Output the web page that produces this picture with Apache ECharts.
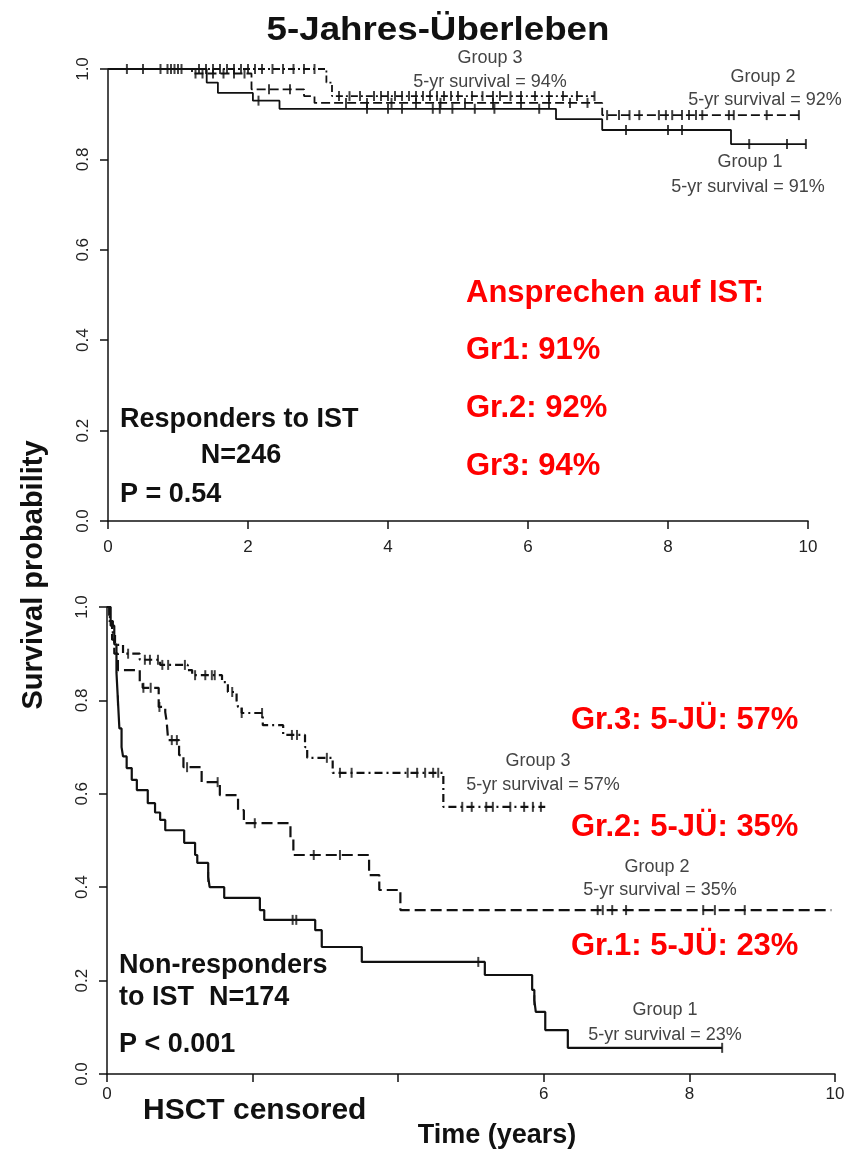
<!DOCTYPE html>
<html>
<head>
<meta charset="utf-8">
<script src="https://cdn.jsdelivr.net/npm/echarts@6/dist/echarts.min.js"></script>
<style>
  html, body { margin: 0; padding: 0; background: #fff; }
  #chart { width: 848px; height: 1151px; }
</style>
</head>
<body>
<div id="chart"></div>
<script>
// ---- data: [time in years, survival] at each step ----
var respG1 = [[0, 1], [1.41, 0.97], [1.57, 0.947], [2.07, 0.93], [2.45, 0.912], [6.4, 0.889], [7.06, 0.865], [8.9, 0.834], [9.97, 0.834]];
var respG2 = [[0, 1], [1.2, 0.99], [2.05, 0.955], [2.8, 0.94], [2.95, 0.925], [7.06, 0.898], [9.9, 0.898]];
var respG3 = [[0, 1], [3.12, 0.97], [3.2, 0.94], [6.95, 0.94]];

var respCens1 = [2.15, 3.7, 4.0, 4.2, 4.64, 4.74, 4.92, 5.24, 5.52, 6.16, 7.4, 8.0, 8.2, 9.16, 9.7, 9.97];
var respCens2 = [1.25, 1.35, 1.5, 1.65, 1.8, 1.95, 2.3, 2.6, 3.4, 3.7, 4.05, 4.4, 4.75, 5.1, 5.5, 5.9, 6.3, 6.6, 6.85,
  7.13, 7.3, 7.45, 7.59, 7.87, 7.97, 8.06, 8.2, 8.3, 8.4, 8.49, 8.87, 8.94, 9.41, 9.87];
var respCens3 = [0.27, 0.5, 0.75, 0.85, 0.9, 0.95, 1.0, 1.05, 1.3, 1.4, 1.5, 1.6, 1.7, 1.8, 1.9, 2.0, 2.1, 2.2, 2.35, 2.5, 2.65, 2.8, 2.95,
  3.3, 3.45, 3.6, 3.8, 3.9, 4.0, 4.1, 4.2, 4.3, 4.4, 4.5, 4.6, 4.7, 4.8, 4.9, 5.0, 5.2, 5.35, 5.5, 5.6, 5.75, 5.9, 6.1, 6.3, 6.5, 6.7, 6.95];

var nonG1 = [[0, 1], [0.05, 0.96], [0.1, 0.92], [0.13, 0.86], [0.15, 0.8], [0.17, 0.74], [0.2, 0.7], [0.22, 0.68], [0.27, 0.655],
  [0.34, 0.63], [0.41, 0.608], [0.56, 0.58], [0.66, 0.56], [0.73, 0.544], [0.8, 0.522], [1.06, 0.495], [1.21, 0.469],
  [1.24, 0.452], [1.39, 0.422], [1.41, 0.4], [1.61, 0.377], [2.1, 0.351], [2.16, 0.33], [2.86, 0.308], [2.95, 0.272],
  [3.5, 0.24], [5.19, 0.212], [5.84, 0.18], [5.87, 0.158], [5.89, 0.133], [6.02, 0.094], [6.33, 0.056], [8.45, 0.056]];
var nonG2 = [[0, 1], [0.03, 0.97], [0.07, 0.93], [0.1, 0.9], [0.15, 0.865], [0.45, 0.84], [0.49, 0.827], [0.71, 0.786],
  [0.8, 0.775], [0.82, 0.754], [0.84, 0.715], [0.99, 0.683], [1.05, 0.657], [1.3, 0.625], [1.55, 0.597], [1.8, 0.565],
  [1.88, 0.537], [2.52, 0.505], [2.56, 0.469], [3.6, 0.426], [3.74, 0.394], [4.03, 0.351], [9.95, 0.351]];
var nonG3 = [[0, 1], [0.04, 0.97], [0.08, 0.944], [0.11, 0.919], [0.22, 0.9], [0.45, 0.887], [0.73, 0.876], [1.11, 0.865],
  [1.17, 0.854], [1.58, 0.839], [1.66, 0.818], [1.78, 0.8], [1.8, 0.786], [1.85, 0.773], [2.14, 0.747], [2.42, 0.726],
  [2.72, 0.7], [2.75, 0.677], [3.1, 0.645], [4.62, 0.572], [6.02, 0.572]];

var nonCens1 = [0.15, 1.39, 2.55, 2.6, 5.1, 5.87, 8.45];
var nonCens2 = [0.5, 0.6, 0.72, 0.89, 0.96, 1.1, 1.52, 2.03, 2.84, 3.2, 6.74, 6.81, 6.94, 7.13, 8.19, 8.35, 8.76];
var nonCens3 = [0.29, 0.52, 0.59, 0.7, 0.76, 0.84, 1.07, 1.21, 1.35, 1.44, 1.48, 1.72, 1.85, 2.13, 2.54, 2.61, 3.02,
  3.2, 3.36, 4.13, 4.26, 4.37, 4.48, 4.55, 4.88, 5.01, 5.21, 5.3, 5.54, 5.73, 5.85, 5.96];

var hiddenBottomX = [2, 4];

// survival value of a step curve at time t
function survAt(curve, t) {
  var s = curve[0][1];
  for (var i = 0; i < curve.length; i++) {
    if (curve[i][0] <= t) s = curve[i][1];
  }
  return s;
}
function censPoints(curve, times) {
  return times.map(function (t) { return [t, survAt(curve, t)]; });
}

var ink = "#111";
var sans = "'Liberation Sans', Arial, sans-serif";
var grey = "#444";
var red = "#ff0000";

function xAxisOf(idx, bottom) {
  return {
    gridIndex: idx, type: "value", min: 0, max: 10, interval: 2,
    splitLine: { show: false },
    axisLine: { lineStyle: { color: ink, width: 1.5 } },
    axisTick: { length: 8, lineStyle: { color: ink, width: 1.5 } },
    axisLabel: {
      color: "#222", fontSize: 17, fontFamily: sans, margin: bottom ? 12 : 18,
      formatter: function (v) {
        if (bottom && hiddenBottomX.indexOf(v) >= 0) return "";
        return String(v);
      }
    }
  };
}
function yAxisOf(idx) {
  return {
    gridIndex: idx, type: "value", min: 0, max: 1, interval: 0.2,
    splitLine: { show: false },
    axisLine: { show: true, lineStyle: { color: ink, width: 1.5 } },
    axisTick: { show: true, length: 8, lineStyle: { color: ink, width: 1.5 } },
    axisLabel: {
      color: "#222", fontSize: 17, fontFamily: sans, rotate: 90, margin: 16,
      formatter: function (v) { return v.toFixed(1); }
    }
  };
}

function curve(idx, data, dash, width) {
  return {
    type: "line", xAxisIndex: idx, yAxisIndex: idx, data: data, step: "end",
    showSymbol: false, silent: true, animation: false,
    lineStyle: { color: ink, width: width, type: dash }
  };
}
function cens(idx, data) {
  return {
    type: "scatter", xAxisIndex: idx, yAxisIndex: idx, data: data,
    symbol: "rect", symbolSize: [2, 10], silent: true, animation: false,
    itemStyle: { color: ink }
  };
}

function txt(x, y, text, size, opts) {
  opts = opts || {};
  return {
    type: "text", x: x, y: y, rotation: opts.rotation || 0,
    scaleX: opts.sx || 1,
    style: {
      text: text, fontSize: size, fontFamily: sans,
      fontWeight: opts.weight || "normal", fill: opts.color || ink,
      align: opts.align || "left", verticalAlign: "middle"
    }
  };
}

var chart = echarts.init(document.getElementById("chart"));
chart.setOption({
  backgroundColor: "#fff",
  animation: false,
  grid: [
    { left: 108, top: 69, width: 700, height: 452 },
    { left: 107, top: 607, width: 728, height: 467 }
  ],
  xAxis: [xAxisOf(0, false), xAxisOf(1, true)],
  yAxis: [yAxisOf(0), yAxisOf(1)],
  series: [
    curve(0, respG1, "solid", 1.8),
    curve(0, respG2, [9, 4], 1.8),
    curve(0, respG3, [7, 3, 2, 3], 1.8),
    cens(0, censPoints(respG1, respCens1)),
    cens(0, censPoints(respG2, respCens2)),
    cens(0, censPoints(respG3, respCens3)),
    curve(1, nonG1, "solid", 2.2),
    curve(1, nonG2, [11, 5], 2.2),
    curve(1, nonG3, [8, 4, 2, 4], 2.2),
    cens(1, censPoints(nonG1, nonCens1)),
    cens(1, censPoints(nonG2, nonCens2)),
    cens(1, censPoints(nonG3, nonCens3))
  ],
  graphic: [
    txt(438, 31, "5-Jahres-Überleben", 34, { weight: "bold", align: "center", sx: 1.08 }),
    txt(34, 575, "Survival probability", 29, { weight: "bold", align: "center", rotation: Math.PI / 2 }),
    txt(497, 1136, "Time (years)", 27, { weight: "bold", align: "center" }),
    txt(143, 1111, "HSCT censored", 30, { weight: "bold" }),

    // top panel notes
    txt(490, 58, "Group 3", 18, { align: "center", color: grey }),
    txt(490, 82, "5-yr survival = 94%", 18, { align: "center", color: grey }),
    txt(763, 77, "Group 2", 18, { align: "center", color: grey }),
    txt(765, 100, "5-yr survival = 92%", 18, { align: "center", color: grey }),
    txt(750, 162, "Group 1", 18, { align: "center", color: grey }),
    txt(748, 187, "5-yr survival = 91%", 18, { align: "center", color: grey }),
    txt(466, 293, "Ansprechen auf IST:", 31, { weight: "bold", color: red }),
    txt(466, 350, "Gr1: 91%", 31, { weight: "bold", color: red }),
    txt(466, 408, "Gr.2: 92%", 31, { weight: "bold", color: red }),
    txt(466, 466, "Gr3: 94%", 31, { weight: "bold", color: red }),
    txt(120, 420, "Responders to IST", 27, { weight: "bold" }),
    txt(241, 456, "N=246", 27, { weight: "bold", align: "center" }),
    txt(120, 495, "P = 0.54", 27, { weight: "bold" }),

    // bottom panel notes
    txt(538, 761, "Group 3", 18, { align: "center", color: grey }),
    txt(543, 785, "5-yr survival = 57%", 18, { align: "center", color: grey }),
    txt(657, 867, "Group 2", 18, { align: "center", color: grey }),
    txt(660, 890, "5-yr survival = 35%", 18, { align: "center", color: grey }),
    txt(665, 1010, "Group 1", 18, { align: "center", color: grey }),
    txt(665, 1035, "5-yr survival = 23%", 18, { align: "center", color: grey }),
    txt(571, 720, "Gr.3: 5-JÜ: 57%", 31, { weight: "bold", color: red }),
    txt(571, 827, "Gr.2: 5-JÜ: 35%", 31, { weight: "bold", color: red }),
    txt(571, 946, "Gr.1: 5-JÜ: 23%", 31, { weight: "bold", color: red }),
    txt(119, 966, "Non-responders", 27, { weight: "bold" }),
    txt(119, 998, "to IST  N=174", 27, { weight: "bold" }),
    txt(119, 1045, "P < 0.001", 27, { weight: "bold" })
  ]
});
</script>
</body>
</html>
